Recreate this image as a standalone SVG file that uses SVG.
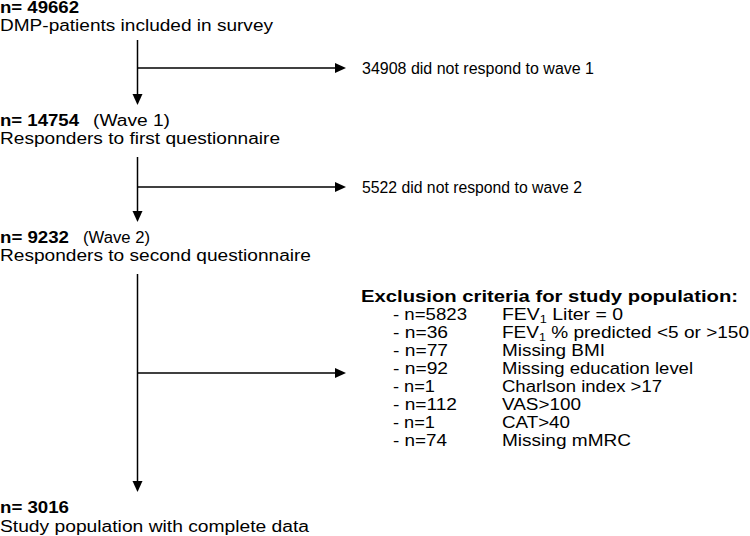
<svg xmlns="http://www.w3.org/2000/svg" width="750" height="536" viewBox="0 0 750 536">
  <style>
    text { font-family: "Liberation Sans", Arial, sans-serif; font-size: 16px; fill: #000; }
    .b { font-weight: bold; }
    .sub { font-size: 10.5px; }
    .ln { stroke: #000; stroke-width: 1.5; fill: none; }
  </style>
  <defs>
    <marker id="ah" markerUnits="userSpaceOnUse" markerWidth="12" markerHeight="12" refX="0" refY="5" orient="auto" overflow="visible">
      <path d="M0,0 L11,5 L0,10 Z" fill="#000"/>
    </marker>
  </defs>
  <rect width="750" height="536" fill="#fff"/>

  <g id="connectors">
    <line class="ln" x1="137.5" y1="40" x2="137.5" y2="94" marker-end="url(#ah)"/>
    <line class="ln" x1="137.5" y1="68" x2="335" y2="68" marker-end="url(#ah)"/>
    <line class="ln" x1="137.5" y1="157" x2="137.5" y2="211" marker-end="url(#ah)"/>
    <line class="ln" x1="137.5" y1="187" x2="335" y2="187" marker-end="url(#ah)"/>
    <line class="ln" x1="137.5" y1="274" x2="137.5" y2="481" marker-end="url(#ah)"/>
    <line class="ln" x1="137.5" y1="373" x2="335" y2="373" marker-end="url(#ah)"/>
  </g>

  <g id="node-survey">
    <text class="b" x="0" y="13" textLength="79" lengthAdjust="spacingAndGlyphs">n= 49662</text>
    <text x="0" y="31" textLength="273" lengthAdjust="spacingAndGlyphs">DMP-patients included in survey</text>
  </g>

  <g id="node-nonresp1">
    <text x="362" y="74" textLength="232" lengthAdjust="spacingAndGlyphs">34908 did not respond to wave 1</text>
  </g>

  <g id="node-wave1">
    <text class="b" x="0" y="125.5" textLength="79" lengthAdjust="spacingAndGlyphs">n= 14754</text>
    <text x="93" y="125.5" textLength="77" lengthAdjust="spacingAndGlyphs">(Wave 1)</text>
    <text x="0" y="144" textLength="280" lengthAdjust="spacingAndGlyphs">Responders  to first questionnaire</text>
  </g>

  <g id="node-nonresp2">
    <text x="362" y="193" textLength="220" lengthAdjust="spacingAndGlyphs">5522 did not respond to wave 2</text>
  </g>

  <g id="node-wave2">
    <text class="b" x="0" y="242.5" textLength="69" lengthAdjust="spacingAndGlyphs">n= 9232</text>
    <text x="83" y="242.5" textLength="67" lengthAdjust="spacingAndGlyphs">(Wave 2)</text>
    <text x="0" y="261" textLength="311" lengthAdjust="spacingAndGlyphs">Responders  to second questionnaire</text>
  </g>

  <g id="node-exclusion">
    <text class="b" x="361" y="302" textLength="377" lengthAdjust="spacingAndGlyphs">Exclusion criteria for study population:</text>
    <text x="393" y="320" textLength="74" lengthAdjust="spacingAndGlyphs">- n=5823</text>
    <text x="502" y="320" textLength="121" lengthAdjust="spacingAndGlyphs">FEV<tspan class="sub" dy="3">1</tspan><tspan dy="-3"> Liter = 0</tspan></text>
    <text x="393" y="338" textLength="55" lengthAdjust="spacingAndGlyphs">- n=36</text>
    <text x="502" y="338" textLength="247" lengthAdjust="spacingAndGlyphs">FEV<tspan class="sub" dy="3">1</tspan><tspan dy="-3"> % predicted &lt;5 or &gt;150</tspan></text>
    <text x="393" y="356" textLength="55" lengthAdjust="spacingAndGlyphs">- n=77</text>
    <text x="502" y="356" textLength="103" lengthAdjust="spacingAndGlyphs">Missing BMI</text>
    <text x="393" y="374" textLength="55" lengthAdjust="spacingAndGlyphs">- n=92</text>
    <text x="502" y="374" textLength="191" lengthAdjust="spacingAndGlyphs">Missing education level</text>
    <text x="393" y="392" textLength="42" lengthAdjust="spacingAndGlyphs">- n=1</text>
    <text x="502" y="392" textLength="160" lengthAdjust="spacingAndGlyphs">Charlson index &gt;17</text>
    <text x="393" y="410" textLength="64" lengthAdjust="spacingAndGlyphs">- n=112</text>
    <text x="502" y="410" textLength="79" lengthAdjust="spacingAndGlyphs">VAS&gt;100</text>
    <text x="393" y="428" textLength="42" lengthAdjust="spacingAndGlyphs">- n=1</text>
    <text x="502" y="428" textLength="68" lengthAdjust="spacingAndGlyphs">CAT&gt;40</text>
    <text x="393" y="446" textLength="54" lengthAdjust="spacingAndGlyphs">- n=74</text>
    <text x="502" y="446" textLength="129" lengthAdjust="spacingAndGlyphs">Missing mMRC</text>
  </g>

  <g id="node-study">
    <text class="b" x="0" y="513" textLength="69" lengthAdjust="spacingAndGlyphs">n= 3016</text>
    <text x="0" y="531.5" textLength="309" lengthAdjust="spacingAndGlyphs">Study population with complete data</text>
  </g>
</svg>
